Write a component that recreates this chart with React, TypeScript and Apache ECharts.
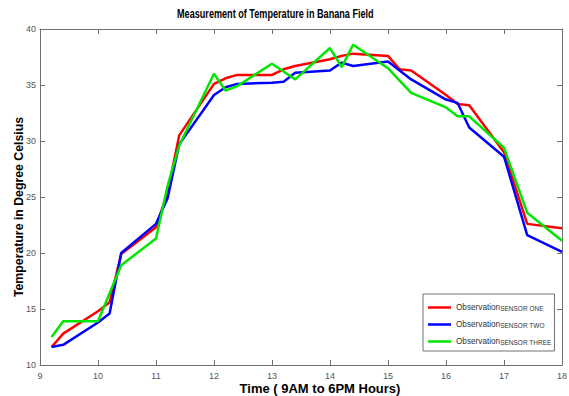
import React, { useEffect, useRef } from "react";
import * as echarts from "echarts";

const hours = [9.2, 9.4, 10.0, 10.2, 10.4, 11.0, 11.2, 11.4, 12.0, 12.2, 12.4, 13.0, 13.2, 13.4, 14.0, 14.2, 14.4, 15.0, 15.2, 15.4, 16.0, 16.2, 16.4, 17.0, 17.4, 18.0];
const sensorOne = [11.6, 12.8, 14.8, 15.6, 19.9, 22.3, 25.4, 30.5, 35.1, 35.6, 35.9, 35.9, 36.4, 36.7, 37.3, 37.6, 37.8, 37.6, 36.4, 36.3, 34.1, 33.3, 33.2, 29.0, 22.6, 22.2];
const sensorTwo = [11.6, 11.8, 13.8, 14.6, 20.0, 22.6, 24.9, 29.7, 34.1, 34.8, 35.1, 35.2, 35.3, 36.1, 36.3, 37.0, 36.7, 37.1, 36.3, 35.5, 33.7, 33.4, 31.2, 28.6, 21.6, 20.1];
const sensorThree = [12.5, 13.9, 13.9, 16.4, 18.9, 21.3, 26.0, 29.6, 36.0, 34.5, 34.9, 36.9, 36.2, 35.5, 38.3, 36.6, 38.6, 36.5, 35.4, 34.3, 33.0, 32.2, 32.2, 29.4, 23.6, 21.1];
const seriesNames = ["SENSOR ONE", "SENSOR TWO", "SENSOR THREE"];
const seriesColors = ["#ff0000", "#0000ff", "#00e600"];

const titleText = "Measurement of Temperature in Banana Field";
const xName = "Time ( 9AM to 6PM Hours)";
const yName = "Temperature in Degree Celsius";

const SANS = "'Liberation Sans', Arial, sans-serif";
const AXIS_COLOR = "#707070";

export default function App() {
  const ref = useRef<HTMLDivElement>(null);
  useEffect(() => {
    if (!ref.current) return;
    const chart = echarts.init(ref.current, null, { renderer: "svg" });
    const allData = [sensorOne, sensorTwo, sensorThree];
    const axisCommon = {
      type: "value" as const,
      axisLine: { show: true, lineStyle: { color: AXIS_COLOR, width: 1 } },
      axisTick: { show: true, inside: true, length: 5, lineStyle: { color: AXIS_COLOR } },
      splitLine: { show: false },
    };
    chart.setOption({
      animation: false,
      backgroundColor: "#ffffff",
      graphic: [
        {
          type: "text",
          x: 177,
          y: 7,
          scaleX: 0.76,
          style: {
            text: titleText,
            font: `bold 12px ${SANS}`,
            fill: "#000",
            textVerticalAlign: "top",
          },
        },
      ],
      grid: { left: 40, right: 7, top: 29, bottom: 31, containLabel: false, outerBoundsMode: "none" },
      xAxis: [
        {
          ...axisCommon,
          min: 9,
          max: 18,
          interval: 1,
          position: "bottom",
          axisLabel: { color: "#555", fontFamily: SANS, fontSize: 9, margin: 6 },
          name: xName,
          nameLocation: "middle",
          nameGap: 17,
          nameMoveOverlap: false,
          nameTextStyle: {
            fontFamily: SANS,
            fontSize: 13,
            fontWeight: "bold",
            color: "#000",
            verticalAlign: "top",
            padding: [0, 0, 0, 38],
          },
        },
        {
          ...axisCommon,
          min: 9,
          max: 18,
          interval: 1,
          position: "top",
          axisLabel: { show: false },
        },
      ],
      yAxis: [
        {
          ...axisCommon,
          min: 10,
          max: 40,
          interval: 5,
          position: "left",
          axisLabel: { color: "#555", fontFamily: SANS, fontSize: 9, margin: 4 },
          name: yName,
          nameLocation: "middle",
          nameGap: 15,
          nameMoveOverlap: false,
          nameTextStyle: {
            fontFamily: SANS,
            fontSize: 12.3,
            fontWeight: "bold",
            color: "#000",
            padding: [0, 20, 0, 0],
          },
        },
        {
          ...axisCommon,
          min: 10,
          max: 40,
          interval: 5,
          position: "right",
          axisLabel: { show: false },
        },
      ],
      legend: {
        orient: "vertical",
        left: 423,
        top: 294,
        padding: [5, 3, 5, 5],
        itemWidth: 23,
        itemHeight: 2.5,
        itemGap: 4,
        icon: "rect",
        borderColor: AXIS_COLOR,
        borderWidth: 1,
        borderRadius: 0,
        backgroundColor: "#fff",
        data: seriesNames,
        formatter: (name: string) => `{a|Observation}{b|${name}}`,
        textStyle: {
          rich: {
            a: { fontFamily: SANS, fontSize: 8.2, color: "#333", lineHeight: 9, verticalAlign: "top" },
            b: { fontFamily: SANS, fontSize: 6.5, color: "#333", lineHeight: 8, padding: [6, 0, 0, 0], verticalAlign: "bottom" },
          },
        },
      },
      series: allData.map((vals, i) => ({
        name: seriesNames[i],
        type: "line",
        xAxisIndex: 0,
        yAxisIndex: 0,
        symbol: "none",
        data: hours.map((h, j) => [h, vals[j]]),
        lineStyle: { color: seriesColors[i], width: 2.5 },
        itemStyle: { color: seriesColors[i] },
        z: 2 + i,
      })),
    });
    return () => chart.dispose();
  }, []);
  return <div ref={ref} style={{ position: "absolute", left: 0, top: 0, width: 569, height: 396 }} />;
}
